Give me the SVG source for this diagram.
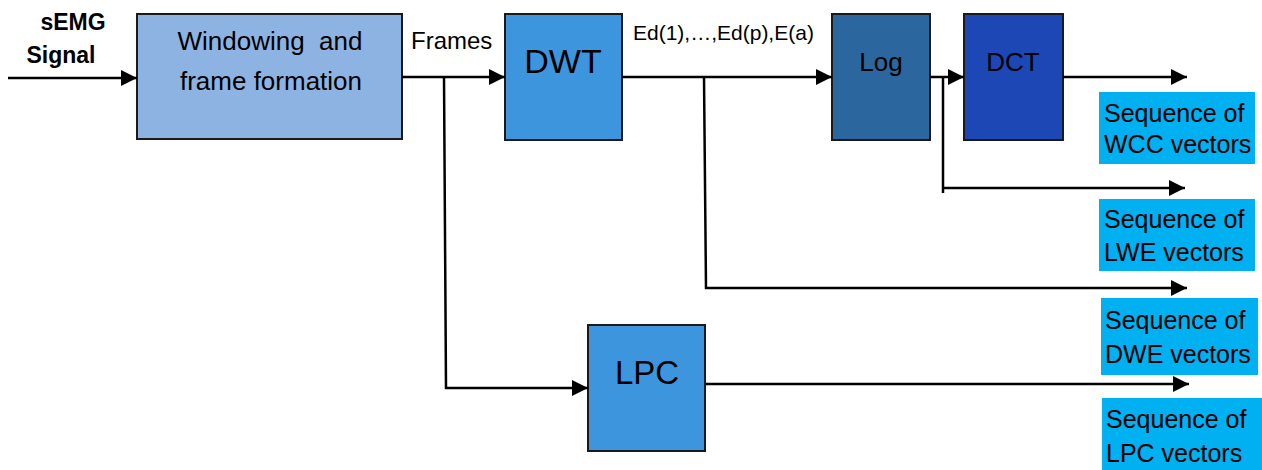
<svg xmlns="http://www.w3.org/2000/svg" width="1262" height="470" viewBox="0 0 1262 470">
<defs>
<style>
.t{font-family:"Liberation Sans",Arial,sans-serif;fill:#000;}
.box{stroke:#1a1a1a;stroke-width:2;}
.ln{fill:none;stroke:#000;stroke-width:2.5;}
.out{fill:#00B0F0;}
</style>
<marker id="ah" markerUnits="userSpaceOnUse" markerWidth="17" markerHeight="17" refX="16" refY="8" orient="auto" viewBox="0 0 17 17">
<path d="M0,0 L16,8 L0,16 z" fill="#000"/>
</marker>
</defs>
<rect width="1262" height="470" fill="#fff"/>
<g id="input-label">
<text class="t" x="73" y="30" font-size="23" font-weight="bold" text-anchor="middle">sEMG</text>
<text class="t" x="61" y="63" font-size="23" font-weight="bold" text-anchor="middle">Signal</text>
</g>
<g id="windowing">
<rect class="box" x="137" y="14" width="265" height="125" fill="#8DB3E2"/>
<text class="t" x="270" y="50" font-size="26" text-anchor="middle" xml:space="preserve">Windowing  and</text>
<text class="t" x="271" y="90" font-size="26" text-anchor="middle">frame formation</text>
</g>
<g id="dwt">
<rect class="box" x="505" y="14" width="117" height="126" fill="#3D95DE"/>
<text class="t" x="563" y="73" font-size="34" text-anchor="middle">DWT</text>
</g>
<g id="log">
<rect class="box" x="832" y="14" width="98" height="126" fill="#2B679E"/>
<text class="t" x="881" y="71" font-size="26" text-anchor="middle">Log</text>
</g>
<g id="dct">
<rect class="box" x="964" y="14" width="99" height="126" fill="#1C47B5"/>
<text class="t" x="1013" y="71" font-size="26" text-anchor="middle">DCT</text>
</g>
<g id="lpc">
<rect class="box" x="588" y="325" width="117" height="126" fill="#3D95DE"/>
<text class="t" x="647" y="384" font-size="33" text-anchor="middle">LPC</text>
</g>
<g id="labels">
<text class="t" x="411" y="49" font-size="24">Frames</text>
<text class="t" x="633" y="40" font-size="21">Ed(1),…,Ed(p),E(a)</text>
</g>
<g id="out-wcc">
<rect class="out" x="1099" y="92" width="156" height="72"/>
<text class="t" x="1104" y="122" font-size="25">Sequence of</text>
<text class="t" x="1104" y="153" font-size="25">WCC vectors</text>
</g>
<g id="out-lwe">
<rect class="out" x="1099" y="199" width="156" height="72"/>
<text class="t" x="1104" y="228" font-size="25">Sequence of</text>
<text class="t" x="1104" y="261" font-size="25">LWE vectors</text>
</g>
<g id="out-dwe">
<rect class="out" x="1101" y="298" width="157" height="77"/>
<text class="t" x="1105" y="329" font-size="25">Sequence of</text>
<text class="t" x="1105" y="363" font-size="25">DWE vectors</text>
</g>
<g id="out-lpc">
<rect class="out" x="1102" y="398" width="160" height="72"/>
<text class="t" x="1106" y="428" font-size="25">Sequence of</text>
<text class="t" x="1106" y="462" font-size="25">LPC vectors</text>
</g>
<g id="connectors">
<path class="ln" d="M8,78 H137" marker-end="url(#ah)"/>
<path class="ln" d="M402,77 H505" marker-end="url(#ah)"/>
<path class="ln" d="M444,77 L446,388 H588" marker-end="url(#ah)"/>
<path class="ln" d="M622,77 H832" marker-end="url(#ah)"/>
<path class="ln" d="M704,77 L706,288 H1187" marker-end="url(#ah)"/>
<path class="ln" d="M930,77 H964" marker-end="url(#ah)"/>
<path class="ln" d="M943,77 V193"/>
<path class="ln" d="M943,188 H1185" marker-end="url(#ah)"/>
<path class="ln" d="M1063,77 H1187" marker-end="url(#ah)"/>
<path class="ln" d="M706,384 H1189" marker-end="url(#ah)"/>
</g>
</svg>
